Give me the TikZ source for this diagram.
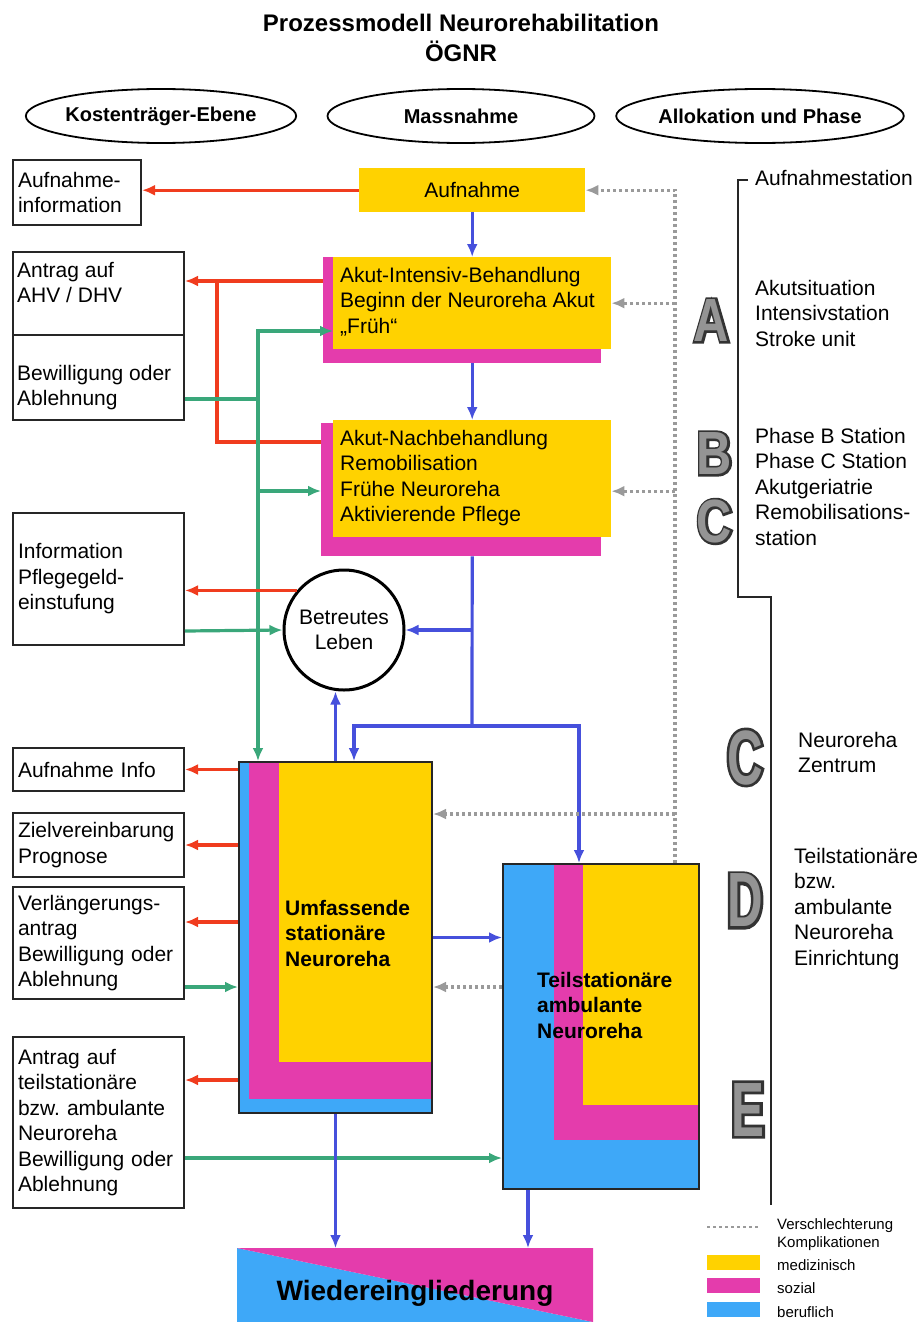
\documentclass[tikz,border=0pt]{standalone}
\usepackage{fontspec}
\setmainfont{Liberation Sans}
\frenchspacing
\newfontfamily\phasefont[FakeStretch=0.8]{Liberation Sans}
\newfontfamily\phasefontol[FakeStretch=0.8,FakeBold=7]{Liberation Sans}
\newfontfamily\phasefontn[FakeStretch=0.64]{Liberation Sans}
\newfontfamily\phasefontnol[FakeStretch=0.64,FakeBold=7]{Liberation Sans}
\usetikzlibrary{shapes.geometric,arrows.meta}
\tikzset{>={Latex[length=13pt,width=11pt]}}
\definecolor{medgelb}{HTML}{FFD200}
\definecolor{sozmag}{HTML}{E43CAC}
\definecolor{berblau}{HTML}{3EA8F8}
\definecolor{pfeilrot}{HTML}{F03C1E}
\definecolor{pfeilgruen}{HTML}{3AA77A}
\definecolor{pfeilblau}{HTML}{4650DC}
\definecolor{punktgrau}{HTML}{9A9A9A}
\newcommand{\bodysize}{\fontsize{21}{25.5}\selectfont}
\newcommand{\lines}[1]{\begin{tabular}[t]{@{}l@{}}#1\end{tabular}}
\newcommand{\phase}[6][]{
    \node[phaserim, font=\csname phasefont#1ol\endcsname\bfseries\fontsize{#5}{#5}\selectfont] (#2rim) at (#3,#4) {#6};
    \node[phaseface, font=\csname phasefont#1\endcsname\bfseries\fontsize{#5}{#5}\selectfont] (#2) at (#3,#4) {#6};
}
\tikzset{
    titel/.style={font=\bfseries\fontsize{24}{24}\selectfont, anchor=base, inner sep=0pt},
    ebene/.style={ellipse, draw, line width=1.8pt, minimum width=267pt, minimum height=54pt, inner sep=0pt, font=\bfseries\fontsize{20}{20}\selectfont},
    kbox/.style={draw=black!85, line width=2pt, anchor=north west, inner sep=5pt, text width=161pt, align=left, font=\bodysize},
    ktxt/.style={anchor=base west, inner sep=0pt, font=\bodysize},
    mbox/.style={fill=medgelb, anchor=north west, inner sep=0pt, font=\bodysize},
    sozschatten/.style={fill=sozmag, anchor=north west, inner sep=0pt},
    mtxt/.style={anchor=base west, inner sep=0pt, font=\bodysize},
    btxt/.style={anchor=base west, inner sep=0pt, font=\bfseries\bodysize},
    rahmen/.style={draw=black!85, line width=2pt, anchor=north west, inner sep=0pt},
    ptxt/.style={anchor=base west, inner sep=0pt, font=\bodysize},
    legtxt/.style={anchor=base west, inner sep=0pt, font=\fontsize{15}{18}\selectfont},
    legbox/.style={anchor=north west, inner sep=0pt, minimum width=53pt, minimum height=15pt},
    phaserim/.style={text=black!80, inner sep=0pt},
    phaseface/.style={text=black!42, inner sep=0pt},
    rot/.style={->, draw=pfeilrot, line width=3.4pt},
    gruen/.style={->, draw=pfeilgruen, line width=3.2pt},
    blau/.style={->, draw=pfeilblau, line width=3.2pt},
    grau/.style={->, draw=punktgrau, line width=3.2pt, dash pattern=on 3pt off 3pt},
    klammerlinie/.style={draw=black!85, line width=2pt}
}

\begin{document}
\begin{tikzpicture}[x=1pt, y=-1pt]
    \useasboundingbox (0,0) rectangle (921,1322);
    \node[titel] (titel) at (461,32) {Prozessmodell Neurorehabilitation};
    \node[titel] (titel2) at (461,62) {ÖGNR};
    \node[ebene] (kosten) at (161,116) {Kostenträger-Ebene};
    \node[ebene] (massnahme) at (461,116) {Massnahme};
    \node[ebene] (allokation) at (760,116) {Allokation und Phase};

    \node[kbox, text width=118pt, minimum height=65pt] (aufinfo) at (12,159) {Aufnahme-\\information};
    \node[kbox, minimum height=83pt] (antrag) at (12,251) {};
    \node[kbox, minimum height=85pt] (bewilligung) at (12,334) {};
    \node[ktxt] (antragtxt) at (17,277) {\lines{Antrag auf\\AHV / DHV}};
    \node[ktxt] (bewtxt) at (17,380) {\lines{Bewilligung oder\\Ablehnung}};
    \node[kbox, minimum height=132pt] (pflege) at (12,512) {Information\\Pflegegeld-\\einstufung};
    \node[kbox, minimum height=43pt] (aufinfo2) at (12,747) {Aufnahme Info};
    \node[kbox, minimum height=64pt] (ziel) at (12,812) {Zielvereinbarung\\Prognose};
    \node[kbox, minimum height=112pt] (verl) at (12,886) {Verlängerungs-\\antrag\\Bewilligung oder\\Ablehnung};
    \node[kbox, minimum height=171pt] (antragteil) at (12,1036) {Antrag auf\\teilstationäre\\bzw. ambulante\\Neuroreha\\Bewilligung oder\\Ablehnung};

    \node[mbox, minimum width=226pt, minimum height=44pt] (aufnahme) at (359,168) {Aufnahme};
    \node[sozschatten, minimum width=278pt, minimum height=106pt] (akutintsh) at (323,257) {};
    \node[mbox, minimum width=278pt, minimum height=92pt] (akutint) at (333,257) {};
    \node[mtxt] (akutinttxt) at (340,282) {\lines{Akut-Intensiv-Behandlung\\Beginn der Neuroreha Akut\\„Früh“}};
    \node[sozschatten, minimum width=280pt, minimum height=133pt] (akutnachsh) at (321,423) {};
    \node[mbox, minimum width=278pt, minimum height=117pt] (akutnach) at (333,420) {};
    \node[mtxt] (akutnachtxt) at (340,445) {\lines{Akut-Nachbehandlung\\Remobilisation\\Frühe Neuroreha\\Aktivierende Pflege}};
    \node[circle, draw, line width=3pt, minimum size=120pt, inner sep=0pt, align=center, font=\bodysize] (leben) at (344,630) {Betreutes\\Leben};

    \fill[berblau] (238,761) rectangle (431,1112);
    \fill[sozmag] (249,761) rectangle (431,1099);
    \fill[medgelb] (279,761) rectangle (431,1062);
    \node[rahmen, minimum width=193pt, minimum height=351pt] (umfassende) at (238,761) {};
    \node[btxt] (umfassendetxt) at (285,915) {\lines{Umfassende\\stationäre\\Neuroreha}};

    \fill[berblau] (502,863) rectangle (698,1188);
    \fill[sozmag] (554,863) rectangle (698,1140);
    \fill[medgelb] (583,863) rectangle (698,1105);
    \node[rahmen, minimum width=196pt, minimum height=325pt] (teilstat) at (502,863) {};
    \node[btxt] (teilstattxt) at (537,987) {\lines{Teilstationäre\\ambulante\\Neuroreha}};

    \fill[berblau] (237,1248) -- (593,1322) -- (237,1322) -- cycle;
    \fill[sozmag] (237,1248) -- (593,1248) -- (593,1322) -- cycle;
    \node[rahmen, draw=none, minimum width=356pt, minimum height=74pt] (wieder) at (237,1248) {};
    \node[titel, font=\bfseries\fontsize{28}{28}\selectfont] (wiedertxt) at (415,1300) {Wiedereingliederung};

    \draw[rot] (aufnahme.west) -- (aufnahme.west -| aufinfo.east);
    \draw[blau] (aufnahme.south) -- (akutint.north);
    \draw[blau] (akutint.south |- akutintsh.south) -- (akutnach.north);
    \coordinate (rotknick) at (217,281);
    \draw[rot] ([yshift=-24pt]akutintsh.north west) -- (rotknick -| antrag.east);
    \draw[rot, -] ([yshift=-19pt]akutnachsh.north west) -| (rotknick);

    \coordinate (gruenbus) at (258,331);
    \coordinate (akutnachgr) at ([yshift=-68pt]akutnachsh.north west);
    \draw[gruen] ([yshift=-21.5pt]bewilligung.east) -| (gruenbus) -- (gruenbus -| akutint.west);
    \draw[gruen] (gruenbus) -- (gruenbus |- umfassende.north);
    \draw[gruen] (gruenbus |- akutnachgr) -- (akutnachgr);

    \draw[rot] (leben.140) -- (leben.140 -| pflege.east);
    \draw[gruen] ([yshift=-52pt]pflege.east) -- (leben.west);

    \coordinate (blauknick) at (472,726);
    \draw[blau, -] (akutnach.south |- akutnachsh.south) -- (blauknick);
    \draw[blau] (akutnach.south |- leben.east) -- (leben.east);
    \draw[blau] (blauknick) -| ([xshift=18.5pt]umfassende.north);
    \draw[blau] (blauknick) -| ([xshift=-22pt]teilstat.north);
    \draw[blau] (umfassende.north) -- (umfassende.north |- leben.south);

    \coordinate (verlrot) at ([yshift=21pt]verl.east);
    \coordinate (verlgr) at ([yshift=-44pt]verl.east);
    \coordinate (teilrot) at ([yshift=42.5pt]antragteil.east);
    \coordinate (teilgr) at ([yshift=-35.5pt]antragteil.east);
    \draw[rot] (aufinfo2.east -| umfassende.west) -- (aufinfo2.east);
    \draw[rot] (ziel.east -| umfassende.west) -- (ziel.east);
    \draw[rot] (verlrot -| umfassende.west) -- (verlrot);
    \draw[gruen] (verlgr) -- (verlgr -| umfassende.west);
    \draw[rot] (teilrot -| umfassende.west) -- (teilrot);
    \draw[gruen] (teilgr) -- (teilgr -| teilstat.west);
    \draw[blau] (umfassende.east) -- (umfassende.east -| teilstat.west);

    \coordinate (teilab) at ([xshift=-73pt]teilstat.south);
    \draw[blau] (umfassende.south) -- (umfassende.south |- wieder.north);
    \draw[blau] (teilab) -- (teilab |- wieder.north);

    \coordinate (graubus) at ([xshift=74pt]teilstat.north);
    \coordinate (graunach) at ([yshift=-12.5pt]akutnach.east);
    \coordinate (grauumf) at ([yshift=123.5pt]umfassende.east);
    \coordinate (grauteil) at ([yshift=-49.5pt]umfassende.east);
    \draw[grau] (graubus) -- (graubus |- aufnahme.east) -- (aufnahme.east);
    \draw[grau] (graubus |- akutint.east) -- (akutint.east);
    \draw[grau] (graubus |- graunach) -- (graunach);
    \draw[grau] (graubus |- grauumf) -- (grauumf);
    \draw[grau] (grauteil -| teilstat.west) -- (grauteil);

    \node[ptxt] (aufst) at (755,185) {\lines{Aufnahmestation}};
    \coordinate (klammer) at (738,597);
    \coordinate (klammerende) at (771,1205);
    \draw[klammerlinie] ([xshift=-7pt]aufst.west) -| (klammer) -| (klammerende);
    \node[ptxt] (akutsit) at (755,295) {\lines{Akutsituation\\Intensivstation\\Stroke unit}};
    \node[ptxt] (phasebc) at (755,443) {\lines{Phase B Station\\Phase C Station\\Akutgeriatrie\\Remobilisations-\\station}};
    \node[ptxt] (zentrum) at (798,747) {\lines{Neuroreha\\Zentrum}};
    \node[ptxt] (einrichtung) at (794,863) {\lines{Teilstationäre\\bzw.\\ambulante\\Neuroreha\\Einrichtung}};
    \phase{pa}{711.5}{320.5}{61}{A}
    \phase{pb}{714.5}{453.5}{61}{B}
    \phase{pc}{714.5}{521.5}{61}{C}
    \phase[n]{pc2}{745}{757.5}{77}{C}
    \phase[n]{pd}{745}{900.5}{77}{D}
    \phase[n]{pe}{748}{1109.5}{77}{E}

    \coordinate (leglinks) at (707,1227);
    \coordinate (legrechts) at (760,1227);
    \draw[grau, -, line width=2.4pt] (leglinks) -- (legrechts);
    \node[legtxt] (legverschl) at (777,1229) {\lines{Verschlechterung\\Komplikationen}};
    \node[legbox, fill=medgelb] (legmed) at (707,1255) {};
    \node[legtxt] (legmedtxt) at (777,1270) {medizinisch};
    \node[legbox, fill=sozmag] (legsoz) at (707,1278) {};
    \node[legtxt] (legsoztxt) at (777,1293) {sozial};
    \node[legbox, fill=berblau] (legber) at (707,1302) {};
    \node[legtxt] (legbertxt) at (777,1317) {beruflich};
\end{tikzpicture}
\end{document}
